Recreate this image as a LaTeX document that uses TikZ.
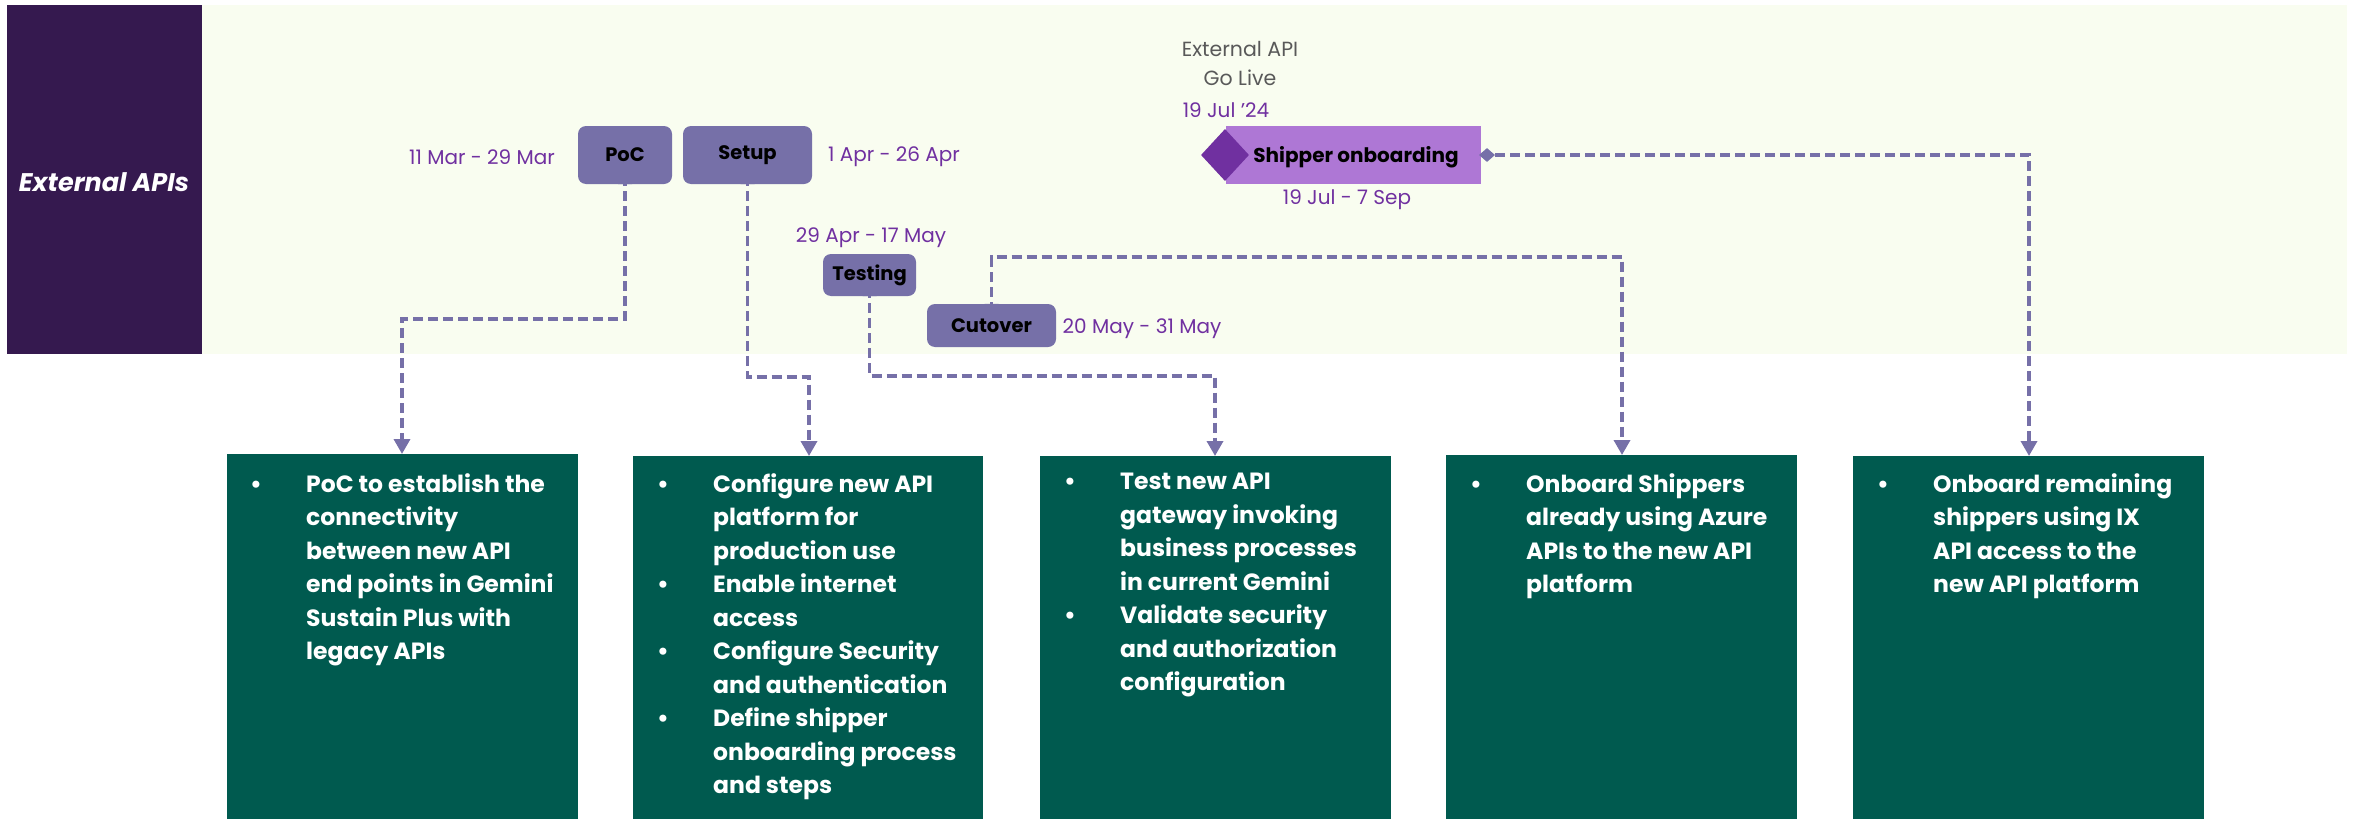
\documentclass[tikz,border=0pt]{standalone}
\usepackage{fontspec}
\setmainfont{Poppins}
\usetikzlibrary{arrows.meta,shapes.geometric}
\definecolor{bandc}{HTML}{35194F}
\definecolor{bgc}{HTML}{F9FDF0}
\definecolor{taskc}{HTML}{7670A8}
\definecolor{datec}{HTML}{7030A0}
\definecolor{shipc}{HTML}{AE77D5}
\definecolor{greenc}{HTML}{005A4F}
\definecolor{greyc}{HTML}{595959}
\newcommand\bul{\llap{\makebox[56pt][l]{\textbullet}}}
\tikzset{
  taskbox/.style={fill=taskc, rounded corners=8pt, inner sep=0pt, font=\fontsize{19.5}{22}\selectfont\bfseries, text=black},
  datelbl/.style={text=datec, font=\fontsize{20}{24}\selectfont, inner sep=0pt},
  greenbox/.style={fill=greenc, inner sep=0pt},
  boxtext/.style={text=white, font=\fontsize{23.5}{33.5}\selectfont\bfseries, align=left, anchor=north west, inner sep=0pt},
  link/.style={draw=taskc, line width=3.5pt, dash pattern=on 10pt off 5pt},
  tip/.style={-{Triangle[length=15pt,width=16pt]}},
}
\begin{document}
\begin{tikzpicture}[x=1pt,y=-1pt]
\useasboundingbox (0,0) rectangle (2359,819);
% backgrounds
\fill[bgc] (202,5) rectangle (2347,354);
\fill[bandc] (7,5) rectangle (202,354);
\node[text=white, font=\fontsize{25.5}{28}\selectfont\bfseries\itshape] (lane) at (104,182) {External APIs};

% task boxes
\node[taskbox, minimum width=94pt, minimum height=58pt] (poc) at (625,155) {PoC};
\node[taskbox, minimum width=129pt, minimum height=58pt] (setup) at (747.5,155) {Setup};
\node[taskbox, minimum width=93pt, minimum height=42pt] (test) at (869.5,275) {Testing};
\node[taskbox, minimum width=129pt, minimum height=43pt] (cut) at (991.5,325.5) {Cutover};

% pointers
\fill[taskc] ([xshift=-7pt]poc.south) -- ([yshift=8pt]poc.south) -- ([xshift=7pt]poc.south) -- cycle;
\fill[taskc] ([xshift=-7pt]setup.south) -- ([yshift=8pt]setup.south) -- ([xshift=7pt]setup.south) -- cycle;
\fill[taskc] ([xshift=-7pt]test.south) -- ([yshift=8pt]test.south) -- ([xshift=7pt]test.south) -- cycle;
\fill[taskc] ([xshift=-7pt]cut.north) -- ([yshift=-8pt]cut.north) -- ([xshift=7pt]cut.north) -- cycle;

% dates
\node[datelbl] (d1) at (482,157) {11 Mar - 29 Mar};
\node[datelbl] (d2) at (894,157) {1 Apr - 26 Apr};
\node[datelbl] (d3) at (871,238) {29 Apr - 17 May};
\node[datelbl] (d4) at (1142,329) {20 May - 31 May};

% milestone and shipper onboarding
\node[text=greyc, font=\fontsize{20.5}{29}\selectfont, align=center, inner sep=0pt] (golive) at (1240,64) {External API\\Go Live};
\node[datelbl] (d5) at (1226,110) {19 Jul '24};
\node[fill=shipc, minimum width=255pt, minimum height=58pt, inner sep=0pt] (ship) at (1353.5,155) {};
\node[font=\fontsize{20}{22}\selectfont\bfseries, inner sep=0pt] (shiplbl) at (1356,157) {Shipper onboarding};
\node[diamond, fill=datec, minimum width=48pt, minimum height=52pt, inner sep=0pt] (ms) at (1225,155) {};
\node[diamond, fill=taskc, minimum width=16pt, minimum height=14pt, inner sep=0pt] (sd) at (1487,155) {};
\node[datelbl] (d6) at (1347,200) {19 Jul - 7 Sep};

% green boxes
\node[greenbox, minimum width=351pt, minimum height=365pt, anchor=north west] (b1) at (227,454) {};
\node[greenbox, minimum width=350pt, minimum height=363pt, anchor=north west] (b2) at (633,456) {};
\node[greenbox, minimum width=351pt, minimum height=363pt, anchor=north west] (b3) at (1040,456) {};
\node[greenbox, minimum width=351pt, minimum height=364pt, anchor=north west] (b4) at (1446,455) {};
\node[greenbox, minimum width=351pt, minimum height=363pt, anchor=north west] (b5) at (1853,456) {};

\node[boxtext] (t1) at (306,473) {\bul PoC to establish the\\connectivity\\between new API\\end points in Gemini\\Sustain Plus with\\legacy APIs};
\node[boxtext] (t2) at (713,473) {\bul Configure new API\\platform for\\production use\\\bul Enable internet\\access\\\bul Configure Security\\and authentication\\\bul Define shipper\\onboarding process\\and steps};
\node[boxtext] (t3) at (1120,473) {\bul Test new API\\gateway invoking\\business processes\\in current Gemini\\\bul Validate security\\and authorization\\configuration};
\node[boxtext] (t4) at (1526,473) {\bul Onboard Shippers\\already using Azure\\APIs to the new API\\platform};
\node[boxtext] (t5) at (1933,473) {\bul Onboard remaining\\shippers using IX\\API access to the\\new API platform};

% connectors
\coordinate (p1a) at (625,319);
\coordinate (p1b) at (402,319);
\draw[link, tip] ([yshift=8pt]poc.south) -- (p1a) -- (p1b) -- (b1.north -| p1b);
\coordinate (p2a) at (747.5,377);
\coordinate (p2b) at (809,377);
\draw[link, tip] ([yshift=8pt]setup.south) -- (p2a) -- (p2b) -- (b2.north -| p2b);
\coordinate (p3a) at (869.5,376);
\coordinate (p3b) at (1215,376);
\draw[link, tip] ([yshift=8pt]test.south) -- (p3a) -- (p3b) -- (b3.north -| p3b);
\coordinate (p4a) at (991.5,257);
\coordinate (p4b) at (1622,257);
\draw[link, tip] ([yshift=-8pt]cut.north) -- (p4a) -- (p4b) -- (b4.north -| p4b);
\coordinate (p5b) at (2029,155);
\draw[link, tip] (sd.east) -- (p5b) -- (b5.north -| p5b);
\end{tikzpicture}
\end{document}
